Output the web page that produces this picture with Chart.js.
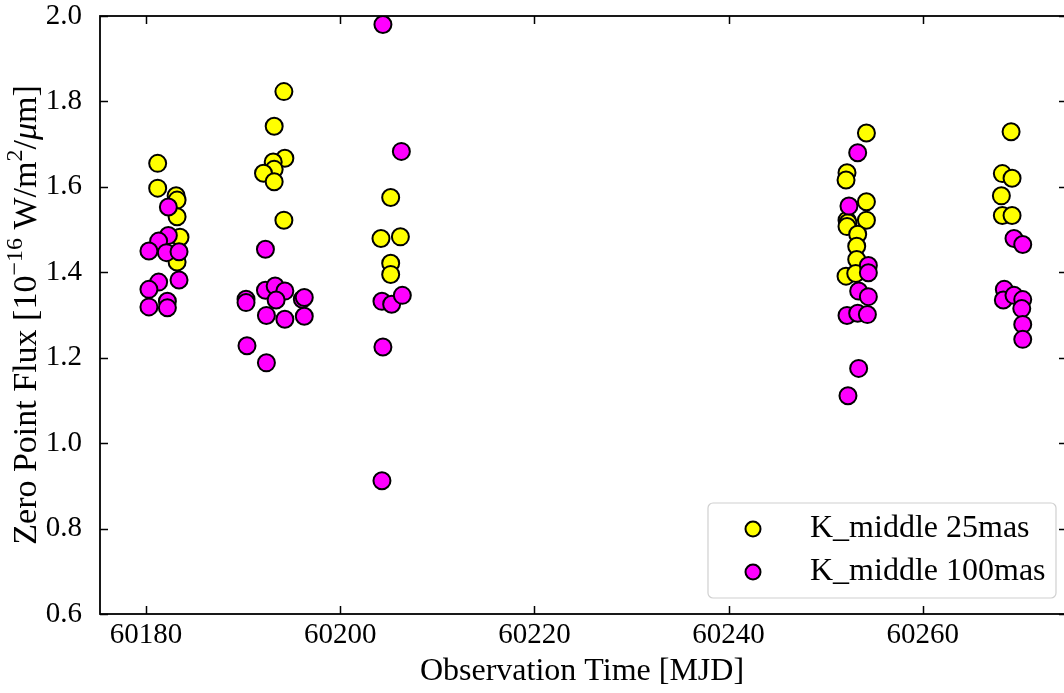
<!DOCTYPE html>
<html>
<head>
<meta charset="utf-8">
<title>Zero Point Flux</title>
<script src="https://cdn.jsdelivr.net/npm/chart.js@4.4.0/dist/chart.umd.min.js"></script>
<style>
  html, body { margin: 0; padding: 0; background: #fff; overflow: hidden; }
  canvas { display: block; }
</style>
</head>
<body>
<canvas id="zpChart" width="1064" height="693"></canvas>
<script>
// K_middle 25mas
const k25Mjd = [
  60181.2, 60181.2, 60183.1, 60183.2, 60183.2, 60183.5, 60183.2,
  60194.2, 60193.2, 60194.3, 60193.1, 60193.2, 60192.1, 60193.2, 60194.2,
  60205.2, 60204.2, 60206.2, 60205.2, 60205.2,
  60254.2, 60252.2, 60252.1, 60254.2, 60254.2, 60252.2, 60252.3, 60252.2,
  60253.3, 60253.2, 60253.2, 60252.1, 60253.1,
  60269.1, 60268.2, 60269.2, 60268.1, 60268.2, 60269.2
];
const k25Flux = [
  1.655, 1.597, 1.579, 1.569, 1.530, 1.482, 1.424,
  1.823, 1.742, 1.667, 1.658, 1.641, 1.632, 1.612, 1.522,
  1.575, 1.479, 1.483, 1.421, 1.395,
  1.726, 1.633, 1.616, 1.565, 1.522, 1.522, 1.516, 1.507,
  1.489, 1.461, 1.430, 1.391, 1.397,
  1.729, 1.631, 1.620, 1.579, 1.533, 1.533
];

// K_middle 100mas
const k100Mjd = [
  60182.3, 60182.3, 60181.3, 60180.3, 60182.1, 60183.4, 60183.4, 60181.3,
  60180.3, 60182.2, 60182.2, 60180.3,
  60192.3, 60192.3, 60193.3, 60194.3, 60193.4, 60190.3, 60190.3, 60196.1,
  60196.3, 60192.4, 60194.3, 60196.3, 60190.4, 60192.4,
  60204.4, 60206.3, 60204.3, 60205.3, 60206.4, 60204.4, 60204.3,
  60253.3, 60252.4, 60254.4, 60254.4, 60253.4, 60254.4, 60252.2, 60253.3,
  60254.3, 60253.4, 60252.3,
  60269.4, 60270.3, 60268.4, 60268.3, 60269.4, 60270.3, 60270.2, 60270.3, 60270.3
];
const k100Flux = [
  1.553, 1.486, 1.473, 1.450, 1.446, 1.448, 1.382, 1.377,
  1.360, 1.332, 1.317, 1.319,
  1.454, 1.358, 1.368, 1.356, 1.335, 1.337, 1.329, 1.337,
  1.341, 1.299, 1.290, 1.297, 1.228, 1.188,
  1.980, 1.683, 1.332, 1.325, 1.346, 1.225, 0.912,
  1.680, 1.555, 1.416, 1.399, 1.356, 1.343, 1.299, 1.304,
  1.301, 1.175, 1.111,
  1.479, 1.465, 1.360, 1.335, 1.346, 1.336, 1.315, 1.278, 1.243
];

const xTicks = [60180, 60200, 60220, 60240, 60260];
const yTicks = [0.6, 0.8, 1.0, 1.2, 1.4, 1.6, 1.8, 2.0];
const seriesNames = ['K_middle 25mas', 'K_middle 100mas'];
const seriesColors = ['#ffff00', '#ff00ff'];
const xTitle = 'Observation Time [MJD]';
// y title pieces, superscripts drawn raised and smaller
const yTitleParts = [
  { text: 'Zero Point Flux [10' },
  { text: '\u221216', sup: true },
  { text: ' W/m' },
  { text: '2', sup: true },
  { text: '/' },
  { text: '\u03BC', italic: true },
  { text: 'm]' }
];

const FONT = "'Liberation Serif', 'Times New Roman', serif";

function toPoints(xs, ys) {
  return xs.map(function (v, i) { return { x: v, y: ys[i] }; });
}

function partFont(p, size) {
  const s = p.sup ? Math.round(size * 0.7) : size;
  return (p.italic ? 'italic ' : '') + s + 'px ' + FONT;
}

// inward ticks on all four sides + the box
// (the right side of the box sits just past the edge of the picture)
const framePlugin = {
  id: 'frame',
  afterDatasetsDraw(chart) {
    const ctx = chart.ctx;
    const a = chart.chartArea;
    const x = chart.scales.x, y = chart.scales.y;
    const len = 8;
    const right = a.right + 3;
    ctx.save();
    ctx.strokeStyle = '#000';
    ctx.lineWidth = 1.5;
    ctx.beginPath();
    xTicks.forEach(function (v) {
      const px = Math.round(x.getPixelForValue(v)) + 0.5;
      ctx.moveTo(px, a.bottom); ctx.lineTo(px, a.bottom - len);
      ctx.moveTo(px, a.top); ctx.lineTo(px, a.top + len);
    });
    yTicks.forEach(function (v) {
      const py = Math.round(y.getPixelForValue(v)) + 0.5;
      ctx.moveTo(a.left, py); ctx.lineTo(a.left + len, py);
      ctx.moveTo(right, py); ctx.lineTo(right - len, py);
    });
    ctx.stroke();
    ctx.lineWidth = 1.8;
    ctx.strokeRect(a.left, a.top, right - a.left, a.bottom - a.top);
    ctx.restore();
  },
  afterDraw(chart) {
    const ctx = chart.ctx;
    const a = chart.chartArea;

    // y axis title with real superscripts
    const size = 34;
    ctx.save();
    ctx.fillStyle = '#000';
    ctx.textAlign = 'left';
    ctx.textBaseline = 'alphabetic';
    let total = 0;
    yTitleParts.forEach(function (p) {
      ctx.font = partFont(p, size);
      p.w = ctx.measureText(p.text).width;
      total += p.w;
    });
    ctx.translate(36, (a.top + a.bottom) / 2);
    ctx.rotate(-Math.PI / 2);
    let cx = -total / 2;
    yTitleParts.forEach(function (p) {
      ctx.font = partFont(p, size);
      ctx.fillText(p.text, cx, p.sup ? -size * 0.4 : 0);
      cx += p.w;
    });
    ctx.restore();

    // legend box, lower right
    const bx = 708, by = 503, bw = 348, bh = 95, r = 5;
    ctx.save();
    ctx.beginPath();
    ctx.moveTo(bx + r, by);
    ctx.lineTo(bx + bw - r, by);
    ctx.arcTo(bx + bw, by, bx + bw, by + r, r);
    ctx.lineTo(bx + bw, by + bh - r);
    ctx.arcTo(bx + bw, by + bh, bx + bw - r, by + bh, r);
    ctx.lineTo(bx + r, by + bh);
    ctx.arcTo(bx, by + bh, bx, by + bh - r, r);
    ctx.lineTo(bx, by + r);
    ctx.arcTo(bx, by, bx + r, by, r);
    ctx.closePath();
    ctx.fillStyle = 'rgba(255,255,255,0.8)';
    ctx.fill();
    ctx.strokeStyle = '#d0d0d0';
    ctx.lineWidth = 1.2;
    ctx.stroke();

    chart.data.datasets.forEach(function (ds, i) {
      const cy = 529 + i * 43;
      ctx.beginPath();
      ctx.arc(753, cy, 7.5, 0, Math.PI * 2);
      ctx.fillStyle = ds.backgroundColor;
      ctx.fill();
      ctx.lineWidth = 2;
      ctx.strokeStyle = '#000';
      ctx.stroke();
      ctx.fillStyle = '#000';
      ctx.font = '32px ' + FONT;
      ctx.textAlign = 'left';
      ctx.textBaseline = 'alphabetic';
      ctx.fillText(ds.label, 810, cy + 8);
    });
    ctx.restore();
  }
};

new Chart(document.getElementById('zpChart'), {
  type: 'scatter',
  data: {
    datasets: [{
      label: seriesNames[0],
      data: toPoints(k25Mjd, k25Flux),
      backgroundColor: seriesColors[0],
      borderColor: '#000',
      borderWidth: 2,
      pointRadius: 8.5,
      pointHoverRadius: 8.5,
      order: 2
    }, {
      label: seriesNames[1],
      data: toPoints(k100Mjd, k100Flux),
      backgroundColor: seriesColors[1],
      borderColor: '#000',
      borderWidth: 2,
      pointRadius: 8.5,
      pointHoverRadius: 8.5,
      order: 1
    }]
  },
  plugins: [framePlugin],
  options: {
    responsive: false,
    animation: false,
    devicePixelRatio: 1,
    layout: { autoPadding: false, padding: { left: 0, right: 0, top: 16, bottom: 0 } },
    plugins: {
      legend: { display: false },
      tooltip: { enabled: false }
    },
    scales: {
      x: {
        type: 'linear',
        min: 60175.26,
        max: 60274.55,
        afterBuildTicks: function (s) { s.ticks = xTicks.map(function (v) { return { value: v }; }); },
        afterFit: function (s) {
          s.height = 79;
          s.paddingLeft = 0;
          s.paddingRight = 0;
        },
        grid: { display: false, drawTicks: false },
        border: { display: false },
        ticks: {
          color: '#000',
          padding: 6.5,
          autoSkip: false,
          maxRotation: 0,
          font: { family: FONT, size: 29, lineHeight: 1.0 },
          callback: function (v) { return String(v); }
        },
        title: {
          display: true,
          text: xTitle,
          color: '#000',
          font: { family: FONT, size: 32, lineHeight: 1.2 },
          padding: { top: 0, bottom: 2.6 }
        }
      },
      y: {
        min: 0.6,
        max: 2.0,
        afterBuildTicks: function (s) { s.ticks = yTicks.map(function (v) { return { value: v }; }); },
        afterFit: function (s) {
          s.width = 100;
          // labels sit at the corners of the frame, no extra room wanted
          s.paddingTop = 0;
          s.paddingBottom = 0;
        },
        grid: { display: false, drawTicks: false },
        border: { display: false },
        ticks: {
          color: '#000',
          padding: 18,
          font: { family: FONT, size: 29, lineHeight: 1.0 },
          callback: function (v) { return v.toFixed(1); }
        },
        title: { display: false }
      }
    }
  }
});
</script>
</body>
</html>
